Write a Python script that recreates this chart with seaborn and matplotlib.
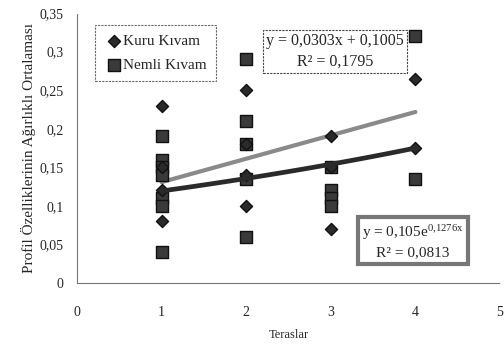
import numpy as np
import pandas as pd
import matplotlib
matplotlib.use("Agg")
import matplotlib.pyplot as plt
import seaborn as sns

# Data
kuru_x = [1, 1, 1, 1, 2, 2, 2, 2, 3, 3, 3, 4, 4]
kuru_y = [0.23, 0.15, 0.12, 0.08, 0.25, 0.18, 0.14, 0.10, 0.19, 0.15, 0.07, 0.265, 0.175]
nemli_x = [1, 1, 1, 1, 1, 1, 1, 2, 2, 2, 2, 2, 3, 3, 3, 3, 4, 4]
nemli_y = [0.19, 0.16, 0.15, 0.14, 0.11, 0.10, 0.04, 0.29, 0.21, 0.18, 0.135, 0.06,
           0.15, 0.12, 0.11, 0.10, 0.32, 0.135]
series_names = ["Kuru Kıvam", "Nemli Kıvam"]
lin_coef = [0.0303, 0.1005]      # Kuru linear trend
exp_coef = [0.105, 0.1276]       # Nemli exponential trend
trend_x = [1, 4]
x_ticks = [0, 1, 2, 3, 4, 5]
y_ticks = [0, 0.05, 0.1, 0.15, 0.2, 0.25, 0.3, 0.35]
y_labels = ["0", "0,05", "0,1", "0,15", "0,2", "0,25", "0,3", "0,35"]

sns.set_style("white")
plt.rcParams["font.family"] = ["Liberation Serif", "DejaVu Serif"]
plt.rcParams["mathtext.fontset"] = "custom"
plt.rcParams["mathtext.rm"] = "Liberation Serif"
plt.rcParams["mathtext.it"] = "Liberation Serif"

fig = plt.figure(figsize=(5.04, 3.44), dpi=100)
ax = fig.add_axes([0.1528, 0.1773, 0.992 - 0.1528, 0.9622 - 0.1773])

kdf = pd.DataFrame({"x": kuru_x, "y": kuru_y})
ndf = pd.DataFrame({"x": nemli_x, "y": nemli_y})

tx = np.linspace(trend_x[0], trend_x[1], 50)
tdf = pd.DataFrame({"x": tx,
                    "lin": lin_coef[0] * tx + lin_coef[1],
                    "exp": exp_coef[0] * np.exp(exp_coef[1] * tx)})

sns.scatterplot(data=ndf, x="x", y="y", marker="s", s=85, color="#3a3a3a",
                edgecolor="#111111", linewidth=1.0, ax=ax, zorder=3,
                label=series_names[1])
sns.scatterplot(data=kdf, x="x", y="y", marker="D", s=38, color="#2a2a2a",
                edgecolor="#111111", linewidth=1.0, ax=ax, zorder=4,
                label=series_names[0])
sns.lineplot(data=tdf, x="x", y="lin", color="#8a8a8a", linewidth=3, ax=ax, zorder=2)
sns.lineplot(data=tdf, x="x", y="exp", color="#2a2a2a", linewidth=3.4, ax=ax, zorder=5)

ax.set_xlim(0, 5)
ax.set_ylim(0, 0.35)
ax.set_xticks(x_ticks)
ax.set_xticklabels([str(t) for t in x_ticks], fontsize=10)
ax.set_yticks(y_ticks)
ax.set_yticklabels(y_labels, fontsize=10)
ax.tick_params(axis="both", direction="inout", length=5, width=0.6, color="#555555")
ax.tick_params(axis="x", pad=14)
ax.tick_params(axis="y", pad=7)
for s in ["top", "right"]:
    ax.spines[s].set_visible(False)
for s in ["left", "bottom"]:
    ax.spines[s].set_color("#777777")
    ax.spines[s].set_linewidth(0.8)
    ax.spines[s].set_linestyle((0, (2, 1)))

ax.set_xlabel("Teraslar", fontsize=9, labelpad=7)
ax.set_ylabel("Profil Özelliklerinin Ağırlıklı Ortalaması", fontsize=11, labelpad=3)

# legend (order Kuru then Nemli)
h, l = ax.get_legend_handles_labels()
order = [l.index(series_names[0]), l.index(series_names[1])]
leg = ax.legend([h[i] for i in order], [l[i] for i in order],
                loc="upper left", bbox_to_anchor=(0.025, 0.985), frameon=True,
                fontsize=11, handletextpad=0.0, borderpad=0.6, labelspacing=0.7,
                fancybox=False, handlelength=1.2, markerscale=1.0)
leg.get_frame().set_edgecolor("#444444")
leg.get_frame().set_linestyle((0, (2, 1)))
leg.get_frame().set_linewidth(0.8)

ax.text(2.24, 0.300, "y = 0,0303x + 0,1005\nR² = 0,1795", fontsize=11.5,
        ha="left", va="center", linespacing=1.35, multialignment="center",
        bbox=dict(boxstyle="square,pad=0.2", facecolor="white",
                  edgecolor="#444444", linestyle=(0, (2, 1)), linewidth=0.8))
ax.text(3.37, 0.054, "y = 0,105e$^{0{,}1276x}$\nR² = 0,0813", fontsize=11,
        ha="left", va="center", linespacing=1.45, multialignment="center",
        bbox=dict(boxstyle="square,pad=0.3", facecolor="white",
                  edgecolor="#777777", linewidth=3))

fig.savefig("out.png", dpi=100)
